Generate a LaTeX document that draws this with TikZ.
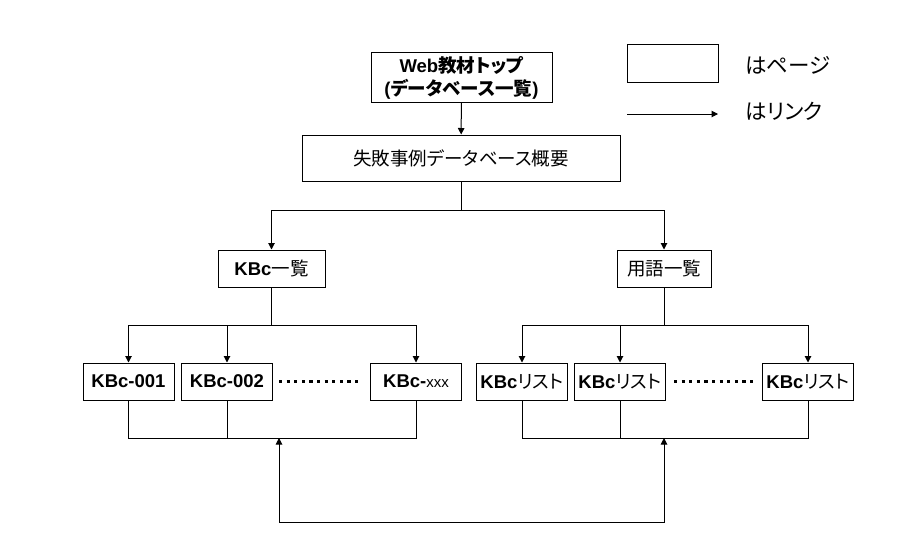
\documentclass[tikz,border=0pt]{standalone}
\usepackage{fontspec}
\setmainfont{Liberation Sans}
\newfontfamily\jp{Noto Sans CJK JP}[RawFeature=+palt]
\usetikzlibrary{arrows,arrows.meta}
\usetikzlibrary{positioning,calc}
\newcommand{\jtext}[1]{{\jp #1}}
\tikzset{page/.style={rectangle,draw=black,fill=white,line width=1pt,inner sep=0pt,
minimum height=37pt, font=\fontsize{18.5}{23}\selectfont},
item/.style={page,minimum width=91pt},
dotline/.style={line width=3.2pt,dash pattern=on 3.2pt off 4.4pt},
link/.style={line width=1pt},
>={Triangle[length=6.5pt,width=6.5pt]}}

\begin{document}
\begin{tikzpicture}[x=1pt,y=-1pt]
\useasboundingbox (0,0) rectangle (915,558);

% pages
\node(Top) [page,minimum width=181pt,minimum height=50pt,align=center] at (461.5,77.5)
  {\textbf{Web}\jtext{\bfseries 教材トップ}\\\textbf{(}\jtext{\bfseries データベース一覧}\textbf{)}};
\node(DB) [page,minimum width=318pt,minimum height=46pt] at (461,158) {\jtext{失敗事例データベース概要}};
\node(KBc) [page,minimum width=107pt] at (271.5,268.5) {\textbf{KBc}\jtext{一覧}};
\node(Term) [page,minimum width=94pt] at (664,268.5) {\jtext{用語一覧}};
\node(K1) [item] at (128.5,381.5) {\textbf{KBc-001}};
\node(K2) [item] at (227,381.5) {\textbf{KBc-002}};
\node(Kx) [item] at (416,381.5) {\textbf{KBc-}{\fontsize{15}{15}\selectfont xxx}};
\node(L1) [item] at (522,381.5) {\textbf{KBc}\jtext{リスト}};
\node(L2) [item] at (620,381.5) {\textbf{KBc}\jtext{リスト}};
\node(Lx) [item] at (808,381.5) {\textbf{KBc}\jtext{リスト}};

% legend
\node(LegPage) [page,minimum width=91pt,minimum height=38pt] at (672.5,63) {};
\node(LegPageT) [anchor=west,inner xsep=0pt,font=\fontsize{21.5}{21.5}\selectfont] at (745,65) {\jtext{はページ}};
\coordinate (LegA) at (627,114);
\coordinate (LegB) at (718,114);
\node(LegLinkT) [anchor=west,inner xsep=0pt,font=\fontsize{21.5}{21.5}\selectfont] at (745,111) {\jtext{はリンク}};

% branch points
\coordinate (split) at (461,210);
\coordinate (lsplit) at (271.5,325);
\coordinate (rsplit) at (664,325);
\coordinate (lbus) at (279,438);
\coordinate (rbus) at (664,438);

\begin{scope}[link]
\draw
(LegA)
   edge [->]
(LegB);
\draw
(Top)
   edge [->]
(DB);
\draw
(DB.south)
   --
(split);
\draw [->]
(split)
   -|
(KBc.north);
\draw [->]
(split)
   -|
(Term.north);
\draw
(KBc.south)
   --
(lsplit);
\draw [->]
(lsplit)
   -|
(K1.north);
\draw [->]
(lsplit)
   -|
(K2.north);
\draw [->]
(lsplit)
   -|
(Kx.north);
\draw
(Term.south)
   --
(rsplit);
\draw [->]
(rsplit)
   -|
(L1.north);
\draw [->]
(rsplit)
   -|
(L2.north);
\draw [->]
(rsplit)
   -|
(Lx.north);
\draw
(K1.south)
   |-
(lbus);
\draw
(K2.south)
   |-
(lbus);
\draw
(Kx.south)
   |-
(lbus);
\draw
(L1.south)
   |-
(rbus);
\draw
(L2.south)
   |-
(rbus);
\draw
(Lx.south)
   |-
(rbus);
\draw [<->]
(lbus)
   -- ++(0,84) -|
(rbus);
\end{scope}

% omitted pages
\draw [dotline]
([xshift=6pt]K2.east)
   --
([xshift=-9pt]Kx.west);
\draw [dotline]
([xshift=8pt]L2.east)
   --
([xshift=-5pt]Lx.west);
\end{tikzpicture}
\end{document}
